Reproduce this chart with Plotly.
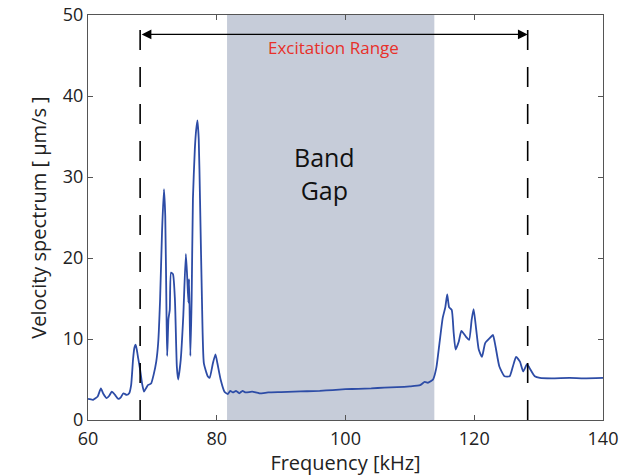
import plotly.graph_objects as go

# Measured velocity spectrum
freq_khz = [
    60.0, 60.8, 61.5, 62.0, 62.4, 62.9, 63.3, 63.7, 64.2, 64.7, 65.1, 65.5, 66.0, 66.4,
    66.7, 67.0, 67.2, 67.4, 67.6, 67.8, 68.1, 68.4, 68.7, 69.0, 69.3, 69.8, 70.2, 70.6,
    70.9, 71.2, 71.5, 71.8, 72.0, 72.2, 72.3, 72.5, 72.7, 72.9, 73.2, 73.5, 73.8, 74.0,
    74.4, 74.8, 75.2, 75.4, 75.6, 75.7, 75.9, 76.1, 76.3, 76.6, 76.8, 77.0, 77.2, 77.4,
    77.7, 78.0, 78.6, 78.9, 79.4, 79.8, 80.1, 80.6, 81.2, 81.7, 82.1, 82.5, 83.0, 83.5,
    84.0, 84.5, 85.5, 86.6, 88.0, 90.0, 92.0, 94.0, 96.0, 98.0, 100.0, 102.0, 104.0,
    106.0, 108.0, 110.0, 111.6, 112.3, 112.8, 113.3, 113.6, 114.1, 114.6, 115.1, 115.5,
    115.8, 116.1, 116.5, 116.8, 117.1, 117.6, 118.0, 118.7, 119.2, 119.6, 119.9, 120.3,
    120.7, 121.2, 121.7, 122.4, 122.9, 123.3, 123.9, 124.7, 125.5, 126.0, 126.5, 127.1,
    127.6, 128.2, 128.6, 129.4, 130.2, 132.0, 134.8, 137.0, 140.0,
]
velocity_um_s = [
    2.6, 2.5, 2.9, 3.9, 3.2, 2.7, 3.0, 3.5, 3.1, 2.6, 2.8, 3.3, 3.1, 3.3,
    4.3, 7.5, 8.9, 9.3, 8.6, 7.6, 6.2, 4.5, 3.5, 3.9, 4.3, 4.5, 5.6, 7.2,
    9.5, 14.9, 23.2, 28.5, 25.2, 12.8, 7.9, 12.5, 13.6, 18.2, 18.0, 14.9, 6.6, 5.0,
    7.4, 12.8, 20.5, 17.8, 14.5, 17.4, 7.9, 14.9, 27.3, 33.5, 35.8, 37.0, 34.7, 27.3,
    14.9, 7.0, 5.4, 5.2, 7.0, 8.1, 7.0, 5.0, 3.5, 3.2, 3.6, 3.4, 3.6, 3.3,
    3.6, 3.4, 3.5, 3.3, 3.4, 3.45, 3.5, 3.55, 3.6, 3.7, 3.8, 3.85, 3.9,
    4.0, 4.05, 4.15, 4.3, 4.7, 4.6, 4.8, 5.0, 6.4, 9.5, 12.6, 13.9,
    15.5, 13.9, 13.6, 10.8, 8.7, 9.7, 11.0, 10.3, 9.9, 12.4, 13.7, 11.2,
    8.7, 7.8, 9.5, 10.1, 10.5, 9.1, 6.6, 5.4, 5.4, 6.6, 7.8, 7.2,
    6.0, 6.9, 6.4, 5.4, 5.2, 5.15, 5.2, 5.15, 5.2,
]

band_gap_khz = [81.6, 113.8]
excitation_khz = [68.1, 128.3]
arrow_level = 47.6
label_level = 46.0
band_label_pos = (96.8, 30.4)
x_ticks = [60, 80, 100, 120, 140]
y_ticks = [0, 10, 20, 30, 40, 50]

FONT = "Open Sans"
TEXT = "#222222"
FRAME = "#555555"

fig = go.Figure()
fig.add_trace(go.Scatter(
    x=freq_khz, y=velocity_um_s, mode="lines",
    line=dict(color="#2d4ca6", width=1.8, shape="spline", smoothing=0.5),
    hoverinfo="skip", showlegend=False,
))

# Band gap shading
fig.add_shape(type="rect", xref="x", yref="y",
              x0=band_gap_khz[0], x1=band_gap_khz[1], y0=y_ticks[0], y1=y_ticks[-1],
              fillcolor="#c6ccd9", line_width=0, layer="below")

# Excitation range limits
for xv in excitation_khz:
    fig.add_shape(type="line", xref="x", yref="y",
                  x0=xv, x1=xv, y0=y_ticks[0], y1=y_ticks[-1],
                  line=dict(color="black", width=1.6, dash="20px,17px"))

# Double-headed arrow across the excitation range
fig.add_annotation(x=excitation_khz[1], y=arrow_level, ax=excitation_khz[0], ay=arrow_level,
                   xref="x", yref="y", axref="x", ayref="y", text="",
                   showarrow=True, arrowhead=2, startarrowhead=2, arrowside="end+start",
                   arrowsize=1.5, startarrowsize=1.5, arrowwidth=1.3, arrowcolor="black")
fig.add_annotation(x=sum(excitation_khz) / 2, y=label_level, xref="x", yref="y",
                   text="Excitation Range", showarrow=False,
                   font=dict(family=FONT, size=17, color="#e8302a"))
fig.add_annotation(x=band_label_pos[0], y=band_label_pos[1], xref="x", yref="y",
                   text="Band<br>Gap", showarrow=False, align="center",
                   font=dict(family=FONT, size=25, color="#111111"))

axis_common = dict(
    showline=True, linecolor=FRAME, linewidth=1, mirror="ticks",
    ticks="inside", ticklen=5, tickcolor=FRAME, showgrid=False, zeroline=False,
    automargin=False,
    tickfont=dict(family=FONT, size=18, color=TEXT),
)
fig.update_xaxes(range=[x_ticks[0], x_ticks[-1]], tickvals=x_ticks, **axis_common,
                 ticklabelstandoff=2,
                 title=dict(text="Frequency [kHz]", standoff=1,
                            font=dict(family=FONT, size=20, color=TEXT)))
fig.update_yaxes(range=[y_ticks[0], y_ticks[-1]], tickvals=y_ticks, **axis_common,
                 title=dict(text="Velocity spectrum [ µm/s ]", standoff=10,
                            font=dict(family=FONT, size=20, color=TEXT)))

fig.update_layout(
    width=626, height=476,
    margin=dict(l=88, r=23, t=15, b=56),
    plot_bgcolor="white", paper_bgcolor="white",
)

fig.write_html("out.html")
